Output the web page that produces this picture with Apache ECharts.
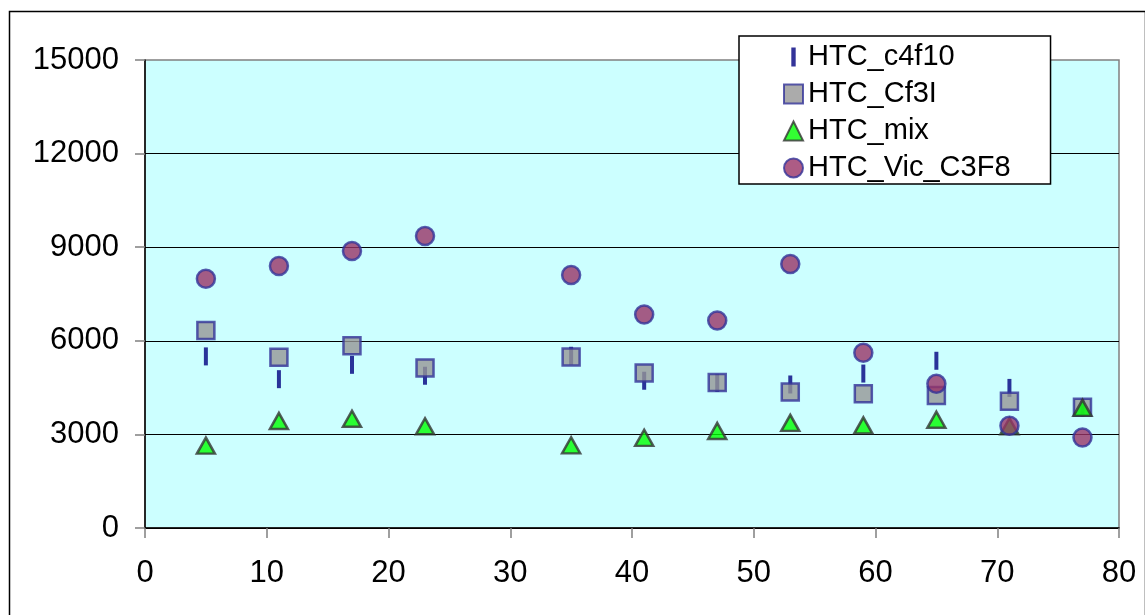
<!DOCTYPE html>
<html>
<head>
<meta charset="utf-8">
<script src="https://cdn.jsdelivr.net/npm/echarts@6/dist/echarts.min.js"></script>
<style>
html,body{margin:0;padding:0;background:#fff;}
#chart{width:1145px;height:615px;}
</style>
</head>
<body>
<div id="chart"></div>
<script>
// x positions
const xValues = [5, 11, 17, 23, 35, 41, 47, 53, 59, 65, 71, 77];
// series values
const htcC4f10 = [5500, 4770, 5230, 4880, 5520, 4720, 4650, 4600, 4950, 5360, 4490, 3850];
const htcCf3I  = [6330, 5470, 5840, 5130, 5480, 4970, 4660, 4360, 4300, 4250, 4060, 3870];
const htcMix   = [2640, 3430, 3500, 3260, 2650, 2890, 3110, 3370, 3290, 3470, 3260, 3850];
const htcVic   = [7990, 8400, 8880, 9360, 8110, 6840, 6650, 8460, 5620, 4620, 3280, 2900];
const seriesNames = ['HTC_c4f10', 'HTC_Cf3I', 'HTC_mix', 'HTC_Vic_C3F8'];
const xTicks = [0, 10, 20, 30, 40, 50, 60, 70, 80];
const yTicks = [0, 3000, 6000, 9000, 12000, 15000];

const pair = arr => arr.map((v, i) => [xValues[i], v]);
const FONT = '"Liberation Sans", Arial, sans-serif';

const chart = echarts.init(document.getElementById('chart'), null, {renderer: 'canvas'});
chart.setOption({
  animation: false,
  backgroundColor: '#fff',
  graphic: [{
    type: 'rect', left: 7, top: 9, z: 100, silent: true,
    shape: {width: 1136, height: 620},
    style: {fill: 'none', stroke: '#000', lineWidth: 1.5}
  }],
  grid: {
    left: 145, right: 26, top: 60, bottom: 87,
    show: true, backgroundColor: '#CCFFFF', borderColor: '#808080', borderWidth: 1.5
  },
  xAxis: {
    type: 'value', min: xTicks[0], max: xTicks[xTicks.length - 1], interval: 10,
    axisLine: {show: true, onZero: false, lineStyle: {color: '#000', width: 1.5}},
    axisTick: {show: true, length: 10, lineStyle: {color: '#808080', width: 1.5}},
    axisLabel: {color: '#000', fontSize: 31, fontFamily: FONT, margin: 30, formatter: v => String(v)},
    splitLine: {show: false}
  },
  yAxis: {
    type: 'value', min: yTicks[0], max: yTicks[yTicks.length - 1], interval: 3000,
    axisLine: {show: true, lineStyle: {color: '#000', width: 1.5}},
    axisTick: {show: true, length: 10, lineStyle: {color: '#808080', width: 1.5}},
    axisLabel: {color: '#000', fontSize: 31, fontFamily: FONT, margin: 26, formatter: v => String(v)},
    splitLine: {show: true, showMaxLine: false, lineStyle: {color: '#000', width: 1.2}}
  },
  legend: {
    orient: 'vertical', left: 739, top: 36,
    backgroundColor: '#fff', borderColor: '#000', borderWidth: 1.5,
    padding: [6, 40, 1, 44], itemGap: 7, itemWidth: 19, itemHeight: 19,
    textStyle: {color: '#000', fontSize: 29, fontFamily: FONT, lineHeight: 30},
    data: [
      {name: seriesNames[0], icon: 'path://M0,0 L3,0 L3,13 L0,13 Z'},
      {name: seriesNames[1]},
      {name: seriesNames[2]},
      {name: seriesNames[3]}
    ]
  },
  series: [
    {
      name: seriesNames[0], type: 'scatter', data: pair(htcC4f10),
      symbol: 'rect', symbolSize: [4, 18],
      itemStyle: {color: '#000080', borderWidth: 0}
    },
    {
      name: seriesNames[1], type: 'scatter', data: pair(htcCf3I),
      symbol: 'rect', symbolSize: 17,
      itemStyle: {color: '#969696', borderColor: '#333399', borderWidth: 2.5}
    },
    {
      name: seriesNames[2], type: 'scatter', data: pair(htcMix),
      symbol: 'triangle', symbolSize: [18, 16],
      itemStyle: {color: '#00FF00', borderColor: '#333333', borderWidth: 2.5}
    },
    {
      name: seriesNames[3], type: 'scatter', data: pair(htcVic),
      symbol: 'circle', symbolSize: 18,
      itemStyle: {color: '#993366', borderColor: '#333399', borderWidth: 2.5}
    }
  ]
});
</script>
</body>
</html>
